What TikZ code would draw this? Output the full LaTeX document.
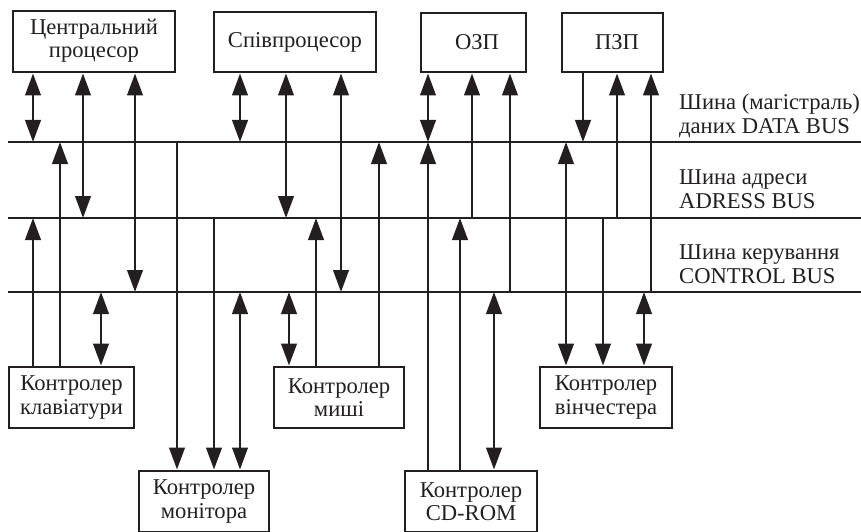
\documentclass[tikz,border=0pt]{standalone}
\usepackage{fontspec}
\setmainfont{Liberation Serif}
\usetikzlibrary{arrows.meta}
\definecolor{ink}{HTML}{231F20}
\begin{document}
\begin{tikzpicture}[x=1pt,y=-1pt,
  >={Triangle[length=22pt,width=15.5pt]},
  box/.style={draw=ink, text=ink, line width=2.9pt, inner sep=0pt, align=center,
    font=\fontsize{22.6}{23.5}\selectfont},
  bus/.style={draw=ink, line width=2.9pt},
  wire/.style={draw=ink, fill=ink, line width=2.6pt},
  lbl/.style={anchor=base west, inner sep=0pt, text=ink, font=\fontsize{22.6}{24}\selectfont}]
\clip (0,0) rectangle (861,532);
% buses
\coordinate (dbL) at (8,142);  \coordinate (dbR) at (862,142);
\coordinate (abL) at (8,218);  \coordinate (abR) at (862,218);
\coordinate (cbL) at (8,292);  \coordinate (cbR) at (862,292);
\coordinate (db) at (0,142);
\coordinate (ab) at (0,218);
\coordinate (cb) at (0,292);
\draw[bus] (dbL) -- (dbR);
\draw[bus] (abL) -- (abR);
\draw[bus] (cbL) -- (cbR);
% top boxes
\node[box, minimum width=162pt, minimum height=61pt] (cpu) at (94,41.5) {\raisebox{-2pt}{\begin{tabular}{@{}c@{}}Центральний\\[-1pt]процесор\end{tabular}}};
\node[box, minimum width=162pt, minimum height=60pt] (cop) at (295,42) {Співпроцесор};
\node[box, minimum width=105pt, minimum height=59pt] (ozp) at (473.5,42.5) {\hspace*{7pt}ОЗП};
\node[box, minimum width=101pt, minimum height=59pt] (pzp) at (612.5,42.5) {\hspace*{9pt}ПЗП};
% bottom boxes
\node[box, minimum width=125pt, minimum height=61pt] (kbd) at (71.5,397.5) {Контролер\\клавіатури};
\node[box, minimum width=130pt, minimum height=61pt] (mouse) at (339,397.5) {Контролер\\миші};
\node[box, minimum width=132pt, minimum height=61pt] (hdd) at (606,397.5) {Контролер\\вінчестера};
\node[box, minimum width=130pt, minimum height=61pt] (mon) at (204,501.5) {Контролер\\монітора};
\node[box, minimum width=132pt, minimum height=61pt] (cd) at (471,501.5) {Контролер\\CD-ROM};
% labels
\node[lbl] (l1a) at (679,110) {Шина (магістраль)};
\node[lbl] (l1b) at (679,133) {даних DATA BUS};
\node[lbl] (l2a) at (679,184) {Шина адреси};
\node[lbl] (l2b) at (679,208) {ADRESS BUS};
\node[lbl] (l3a) at (679,259) {Шина керування};
\node[lbl] (l3b) at (679,283) {CONTROL BUS};
% CPU
\draw[wire,<->] (cpu.south -| 33,0) -- (33,0 |- db);
\draw[wire,<->] (cpu.south -| 83,0) -- (83,0 |- ab);
\draw[wire,<->] (cpu.south -| 135,0) -- (135,0 |- cb);
% coprocessor
\draw[wire,<->] (cop.south -| 240,0) -- (240,0 |- db);
\draw[wire,<->] (cop.south -| 286,0) -- (286,0 |- ab);
\draw[wire,<->] (cop.south -| 341,0) -- (341,0 |- cb);
% RAM
\draw[wire,<->] (ozp.south -| 428,0) -- (428,0 |- db);
\draw[wire,->] (472,0 |- ab) -- (ozp.south -| 472,0);
\draw[wire,->] (510,0 |- cb) -- (ozp.south -| 510,0);
% ROM
\draw[wire,->] (pzp.south -| 583,0) -- (583,0 |- db);
\draw[wire,->] (617,0 |- ab) -- (pzp.south -| 617,0);
\draw[wire,->] (651,0 |- cb) -- (pzp.south -| 651,0);
% keyboard
\draw[wire,->] (kbd.north -| 33,0) -- (33,0 |- ab);
\draw[wire,->] (kbd.north -| 60,0) -- (60,0 |- db);
\draw[wire,<->] (101,0 |- cb) -- (kbd.north -| 101,0);
% monitor
\draw[wire,->] (177,0 |- db) -- (mon.north -| 177,0);
\draw[wire,->] (214,0 |- ab) -- (mon.north -| 214,0);
\draw[wire,<->] (240,0 |- cb) -- (mon.north -| 240,0);
% mouse
\draw[wire,<->] (289,0 |- cb) -- (mouse.north -| 289,0);
\draw[wire,->] (mouse.north -| 316,0) -- (316,0 |- ab);
\draw[wire,->] (mouse.north -| 379,0) -- (379,0 |- db);
% CD-ROM
\draw[wire,->] (cd.north -| 428,0) -- (428,0 |- db);
\draw[wire,->] (cd.north -| 460,0) -- (460,0 |- ab);
\draw[wire,<->] (494,0 |- cb) -- (cd.north -| 494,0);
% hard disk
\draw[wire,<->] (566,0 |- db) -- (hdd.north -| 566,0);
\draw[wire,->] (603,0 |- ab) -- (hdd.north -| 603,0);
\draw[wire,<->] (644,0 |- cb) -- (hdd.north -| 644,0);
\end{tikzpicture}
\end{document}
